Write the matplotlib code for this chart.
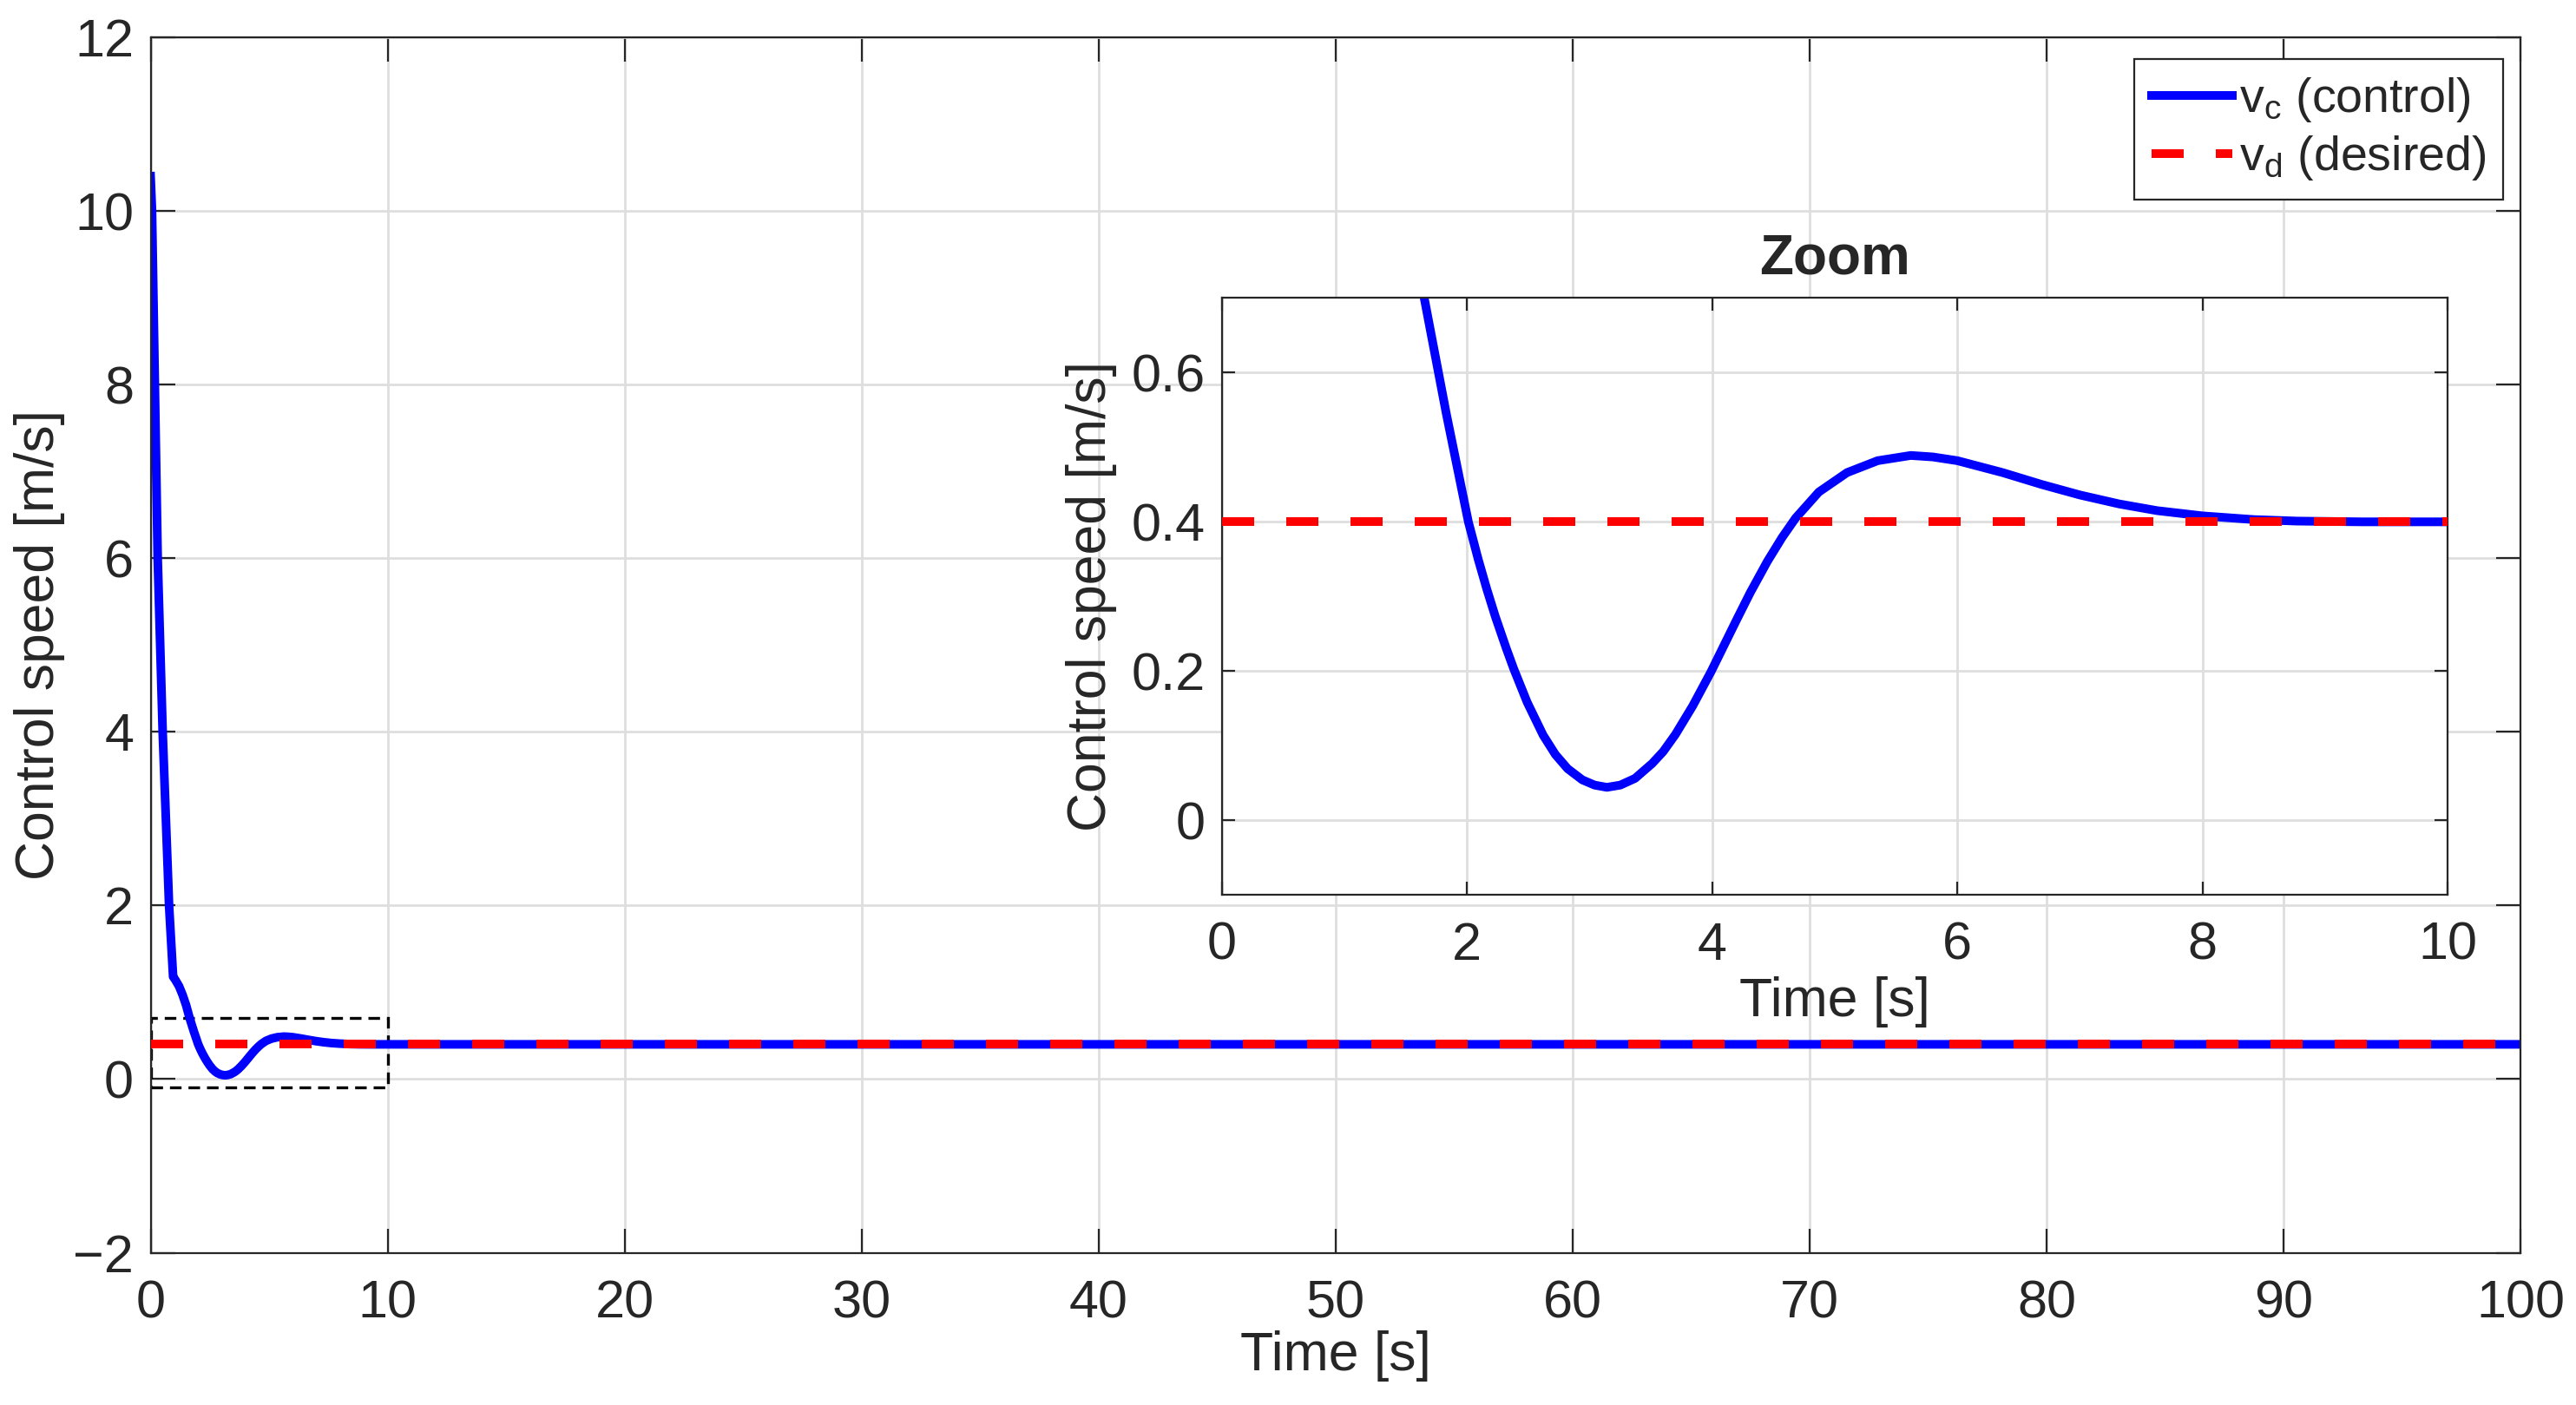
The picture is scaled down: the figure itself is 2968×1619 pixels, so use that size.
import numpy as np
import matplotlib
matplotlib.use("Agg")
from matplotlib import pyplot as plt
from matplotlib.patches import Rectangle

# ---------------- data ----------------
t_ctrl = [0.0, 0.06, 0.18, 0.30, 0.51, 0.78, 0.95, 1.05, 1.2, 1.35, 1.5, 1.65,
          1.83, 2.01, 2.09, 2.16, 2.23, 2.32, 2.38, 2.49, 2.62, 2.72, 2.82,
          2.94, 3.04, 3.14, 3.25, 3.37, 3.51, 3.60, 3.70, 3.84, 3.99, 4.08,
          4.20, 4.31, 4.45, 4.57, 4.68, 4.87, 5.10, 5.35, 5.62, 5.80, 6.0,
          6.37, 6.69, 7.0, 7.32, 7.63, 8.0, 8.42, 8.77, 9.3, 10.0, 100.0]
v_ctrl = [10.4, 10.0, 8.0, 6.0, 4.0, 2.0, 1.18, 1.14, 1.07, 0.97, 0.85, 0.70,
          0.545, 0.400, 0.350, 0.310, 0.273, 0.230, 0.203, 0.158, 0.114, 0.088,
          0.069, 0.054, 0.047, 0.044, 0.047, 0.056, 0.076, 0.092, 0.115,
          0.153, 0.199, 0.229, 0.269, 0.305, 0.347, 0.379, 0.405, 0.440,
          0.466, 0.482, 0.489, 0.487, 0.482, 0.466, 0.450, 0.436, 0.424,
          0.415, 0.408, 0.403, 0.401, 0.400, 0.400, 0.400]

t_des = [0.0, 100.0]
v_des = [0.4, 0.4]

main_xticks = list(range(0, 101, 10))
main_yticks = list(range(-2, 13, 2))
zoom_xticks = [0, 2, 4, 6, 8, 10]
zoom_yticks = [0, 0.2, 0.4, 0.6]
zoom_yticklabels = ['0', '0.2', '0.4', '0.6']

# zoom window (t0, t1, v0, v1)
zoom_win = [0, 10, -0.1, 0.7]

# ---------------- style ----------------
plt.rcParams['font.family'] = ['Liberation Sans', 'DejaVu Sans']
plt.rcParams['mathtext.default'] = 'regular'

W, H = 2968, 1619
DPI = 200
TXT = '#262626'
GRID = '#dedede'

lw_line = 3.6
dash = (3.7, 3.7)
label_fs = 22.5


def style_axes(a, ticklen, fs):
    a.grid(True, color=GRID, linewidth=1.0)
    a.set_axisbelow(True)
    a.tick_params(direction='in', length=ticklen, width=0.8, top=True,
                  right=True, labelsize=fs, colors=TXT)
    a.tick_params(axis='x', pad=11)
    a.tick_params(axis='y', pad=7)
    for s in a.spines.values():
        s.set_linewidth(0.8)
        s.set_color(TXT)


fig = plt.figure(figsize=(W / DPI, H / DPI), dpi=DPI)

# ---------------- main axes ----------------
ax = fig.add_axes([173.5 / W, 1 - 1443.5 / H, (2904 - 173.5) / W, (1443.5 - 43) / H])

ax.add_patch(Rectangle((zoom_win[0], zoom_win[2]), zoom_win[1] - zoom_win[0],
                       zoom_win[3] - zoom_win[2], fill=False, edgecolor='k',
                       linewidth=1.2, linestyle=(0, (4, 2.4)), zorder=1.5))

ax.plot(t_ctrl, v_ctrl, color=(0, 0, 1), linewidth=lw_line, label=r'v$_c$ (control)', zorder=2)
ax.plot(t_des, v_des, color=(1, 0, 0), linewidth=lw_line, dashes=dash,
        label=r'v$_d$ (desired)', zorder=3)

ax.set_xlim(0, 100)
ax.set_ylim(-2, 12)
ax.set_xticks(main_xticks)
ax.set_yticks(main_yticks)
style_axes(ax, 10, 22)

ax.set_xlabel('Time [s]', fontsize=label_fs, color=TXT)
ax.set_ylabel('Control speed [m/s]', fontsize=label_fs, color=TXT)
ax.xaxis.set_label_coords(0.5, -0.064)
ax.yaxis.set_label_coords(-0.036, 0.5)

leg = ax.legend(loc='upper right', bbox_to_anchor=(2884 / W, 1 - 67.7 / H),
                bbox_transform=fig.transFigure, borderaxespad=0, fontsize=20,
                handlelength=1.68, handletextpad=0.15, fancybox=False,
                edgecolor=TXT, framealpha=1, borderpad=0.35, labelspacing=0.2)
leg.get_frame().set_linewidth(0.8)
for txt in leg.get_texts():
    txt.set_color(TXT)

# ---------------- zoom inset ----------------
axin = fig.add_axes([1408 / W, 1 - 1031 / H, 1412 / W, 687.5 / H])
axin.plot(t_ctrl, v_ctrl, color=(0, 0, 1), linewidth=lw_line, zorder=2)
axin.plot(t_des, v_des, color=(1, 0, 0), linewidth=lw_line, dashes=dash, zorder=3)
axin.set_xlim(zoom_win[0], zoom_win[1])
axin.set_ylim(zoom_win[2], zoom_win[3])
axin.set_xticks(zoom_xticks)
axin.set_yticks(zoom_yticks)
axin.set_yticklabels(zoom_yticklabels)
style_axes(axin, 5.4, 22)
axin.set_facecolor('white')

axin.set_title('Zoom', fontsize=23, fontweight='bold', color=TXT, pad=10)
axin.set_xlabel('Time [s]', fontsize=label_fs, color=TXT)
axin.set_ylabel('Control speed [m/s]', fontsize=label_fs, color=TXT)
axin.xaxis.set_label_coords(0.5, -0.137)
axin.yaxis.set_label_coords(-0.086, 0.5)

fig.savefig('out.png', dpi=DPI, facecolor='white')
